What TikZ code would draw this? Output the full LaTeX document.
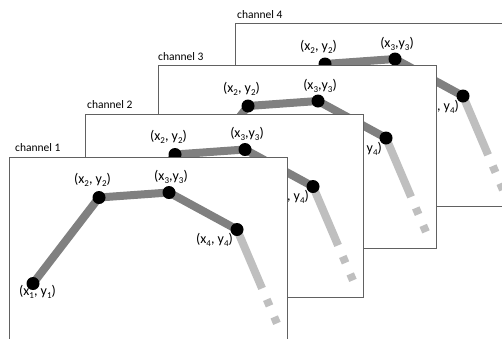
\documentclass[tikz,border=0pt]{standalone}
\usepackage{fontspec}
\setmainfont{Carlito}
% lowered index digit for the point labels
\newcommand\idx[1]{\raisebox{-0.5ex}{\fontsize{9}{10}\selectfont #1}}
\begin{document}
\begin{tikzpicture}[x=1pt,y=-1pt,
  frame/.style={draw=black!62, fill=white, line width=0.9pt, inner sep=0pt,
    minimum width=278pt, minimum height=183pt, anchor=north west},
  seg/.style={draw=black!50, line width=8pt, line join=miter},
  tail/.style={draw=black!25, line width=8pt,
    dash pattern=on 64pt off 12pt on 7pt off 12pt on 7pt off 200pt},
  dot/.style={circle, fill=black, inner sep=0pt, minimum size=13pt},
  coordlabel/.style={font=\fontsize{14}{16}\selectfont, inner sep=0pt, anchor=base},
  chanlabel/.style={font=\fontsize{11.5}{13}\selectfont, inner sep=0pt, anchor=base west}]
\useasboundingbox (0,0) rectangle (502,338);
\clip (0,0) rectangle (502,338);
% four stacked channels, drawn back to front
\foreach \n/\ox/\oy/\lx in {4/235/23/2, 3/158/65/0, 2/85/113.5/2, 1/9/156.5/6} {
  \begin{scope}[shift={(\ox,\oy)}]
    \node[chanlabel] (label\n) at (\lx,-5) {channel \n};
    \node[frame] (frame\n) at (0,0) {};
    \coordinate (p1-\n) at (24,127);
    \coordinate (p2-\n) at (90,41);
    \coordinate (p3-\n) at (160,36);
    \coordinate (p4-\n) at (228,73);
    \coordinate (end-\n) at (271,174);
    \draw[tail] (p4-\n) -- (end-\n);
    \draw[seg] (p1-\n) -- (p2-\n) -- (p3-\n) -- (p4-\n);
    \foreach \k in {1,2,3,4} { \node[dot] (d\k-\n) at (p\k-\n) {}; }
    \node[coordlabel] (l1-\n) at (28.5,139) {(x\idx{1}, y\idx{1})};
    \node[coordlabel] (l2-\n) at (83.5,27) {(x\idx{2}, y\idx{2})};
    \node[coordlabel] (l3-\n) at (162,24) {(x\idx{3},y\idx{3})};
    \node[coordlabel] (l4-\n) at (205.5,87) {(x\idx{4}, y\idx{4})};
  \end{scope}
}
\end{tikzpicture}
\end{document}
